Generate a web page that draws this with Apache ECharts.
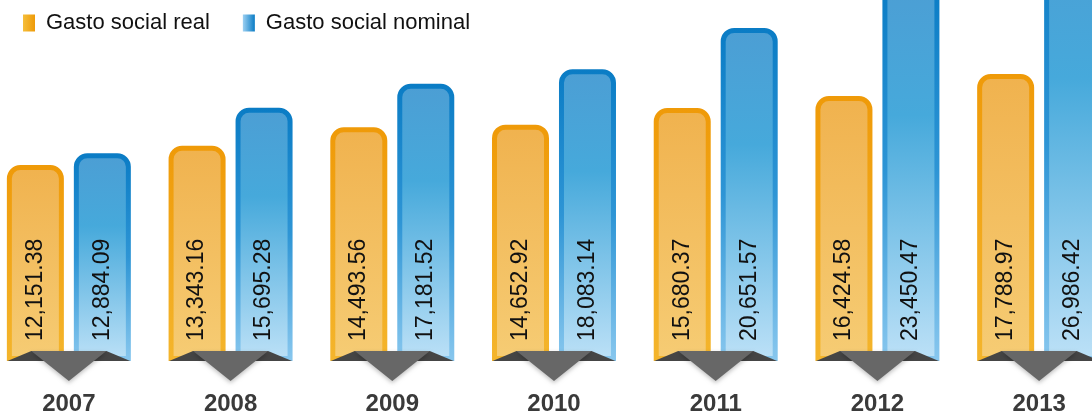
<!DOCTYPE html>
<html>
<head>
<meta charset="utf-8">
<script src="https://cdn.jsdelivr.net/npm/echarts@6/dist/echarts.min.js"></script>
<style>
  html, body { margin: 0; padding: 0; background: #fff; }
  #chart { width: 1092px; height: 417px; }
</style>
</head>
<body>
<div id="chart"></div>
<script>
const years = ["2007", "2008", "2009", "2010", "2011", "2012", "2013"];
const gastoReal = [12151.38, 13343.16, 14493.56, 14652.92, 15680.37, 16424.58, 17788.97];
const gastoNominal = [12884.09, 15695.28, 17181.52, 18083.14, 20651.57, 23450.47, 26986.42];

const grad = (stops, horizontal) => new echarts.graphic.LinearGradient(
  0, 0, horizontal ? 1 : 0, horizontal ? 0 : 1,
  stops.map((c) => ({ offset: c[0], color: c[1] }))
);

const fmt = (v) => v.toLocaleString("en-US", { minimumFractionDigits: 2, maximumFractionDigits: 2 });

const valueLabel = {
  show: true,
  position: "insideBottom",
  distance: 20,
  rotate: 90,
  align: "left",
  verticalAlign: "middle",
  color: "#111",
  fontFamily: "Liberation Sans",
  fontSize: 23,
  formatter: (p) => fmt(p.value)
};

const chart = echarts.init(document.getElementById("chart"));
chart.setOption({
  animation: false,
  legend: {
    left: 23,
    top: 12,
    padding: 0,
    itemWidth: 12,
    itemHeight: 17,
    itemGap: 33,
    icon: "rect",
    textStyle: {
      fontFamily: "Liberation Sans",
      fontSize: 22,
      color: "#111",
      padding: [0, 0, 0, 6]
    },
    data: [
      {
        name: "Gasto social real",
        itemStyle: { color: grad([[0, "#F5BE3A"], [1, "#EE9A08"]], true), borderWidth: 0 }
      },
      {
        name: "Gasto social nominal",
        itemStyle: { color: grad([[0, "#9CD0F2"], [1, "#0A7CC5"]], true), borderWidth: 0 }
      }
    ]
  },
  grid: {
    left: -12,
    right: -28,
    top: -100,
    bottom: 56,
    outerBoundsMode: "none"
  },
  xAxis: {
    type: "category",
    data: years,
    axisLine: { show: false },
    axisTick: { show: false },
    axisLabel: {
      margin: 31,
      fontFamily: "Liberation Sans",
      fontWeight: "bold",
      fontSize: 24,
      color: "#3a3a3a"
    }
  },
  yAxis: {
    type: "value",
    min: 0,
    max: 28580,
    show: false,
    splitLine: { show: false }
  },
  series: [
    {
      name: "Gasto social real",
      type: "bar",
      data: gastoReal,
      barWidth: 57,
      barGap: "17.5%",
      itemStyle: {
        color: grad([[0, "#F0B24E"], [1, "#F6CC74"]]),
        borderColor: grad([[0, "#EF9A08"], [1, "#F4B52C"]]),
        borderWidth: 5,
        borderRadius: [11, 11, 0, 0]
      },
      label: valueLabel
    },
    {
      name: "Gasto social nominal",
      type: "bar",
      data: gastoNominal,
      barWidth: 57,
      itemStyle: {
        color: grad([[0, "#4C9ED4"], [0.35, "#46A9DB"], [1, "#BDE1F7"]]),
        borderColor: grad([[0, "#0A7CC5"], [0.5, "#2E95D5"], [1, "#88C7EE"]]),
        borderWidth: 5,
        borderRadius: [11, 11, 0, 0]
      },
      label: valueLabel
    },
    {
      name: "marker",
      type: "custom",
      z: 5,
      data: years.map((y, i) => [i, 0]),
      renderItem: (params, api) => {
        const p = api.coord([api.value(0), 0]);
        const bw = api.size([1, 0])[0];
        const cx = p[0], by = p[1];
        const outer = bw * 0.38, inner = bw * 0.232;
        return {
          type: "group",
          children: [
            {
              type: "polygon",
              shape: { points: [[cx - outer, by], [cx - inner, by - 10], [cx + inner, by - 10], [cx + outer, by]] },
              style: { fill: "#454545" }
            },
            {
              type: "polygon",
              shape: { points: [[cx - inner, by - 10], [cx + inner, by - 10], [cx, by + 20]] },
              style: { fill: "#676767", shadowBlur: 4, shadowColor: "rgba(0,0,0,0.25)", shadowOffsetY: 2 }
            }
          ]
        };
      }
    }
  ]
});
</script>
</body>
</html>
